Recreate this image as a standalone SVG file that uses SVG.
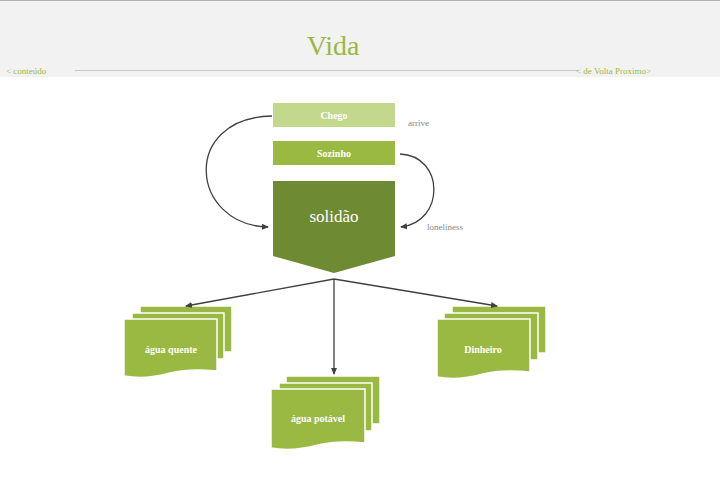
<svg xmlns="http://www.w3.org/2000/svg" width="720" height="487" viewBox="0 0 720 487">
<style>
.s{font-family:"Liberation Serif","DejaVu Serif",serif}
.w{fill:#fff;font-size:10px;text-anchor:middle;font-weight:bold}
.g{fill:#888;font-size:9px}
.n{fill:#9ab943;font-size:9px}
.doc{fill:#9ab943;stroke:#fff;stroke-width:1.5}
.c{fill:none;stroke:#404040;stroke-width:1.3}
</style>
<defs><marker id="a" markerWidth="8" markerHeight="8" refX="6" refY="4" orient="auto" markerUnits="userSpaceOnUse"><path d="M0,1 L7,4 L0,7 Z" fill="#404040"/></marker></defs>
<rect width="720" height="77" fill="#f2f2f2"/>
<line x1="0" y1="0.5" x2="720" y2="0.5" stroke="#b0b0b0"/>
<line x1="75" y1="70.5" x2="578" y2="70.5" stroke="#c8c8c8"/>
<text class="s" x="333" y="55" font-size="28" fill="#9ab943" text-anchor="middle">Vida</text>
<text class="s n" x="6" y="74">&lt; conteúdo</text>
<text class="s n" x="576" y="74">&lt; de Volta Proximo&gt;</text>
<g id="chego"><rect x="273" y="103" width="122" height="24" fill="#c3d88d"/><text class="s w" x="334" y="119">Chego</text></g>
<g id="sozinho"><rect x="273" y="141" width="122" height="24" fill="#9ab943"/><text class="s w" x="334" y="157">Sozinho</text></g>
<g id="solidao"><path d="M273,181 H395 V256 L334,273 L273,256 Z" fill="#6e8a33"/><text class="s" x="334" y="222" font-size="17" fill="#fff" text-anchor="middle">solidão</text></g>
<text class="s g" x="408" y="126">arrive</text>
<text class="s g" x="427" y="230">loneliness</text>
<g id="agua-quente">
<rect class="doc" x="140" y="306" width="92" height="46"/>
<rect class="doc" x="132" y="313" width="92" height="46"/>
<path class="doc" d="M124,319 H217 V371 Q190,368 170,373 Q145,380 124,376 Z"/>
<text class="s w" x="171" y="353">água quente</text></g>
<g id="agua-potavel">
<rect class="doc" x="286" y="376" width="94" height="48"/>
<rect class="doc" x="279" y="383" width="93" height="48"/>
<path class="doc" d="M271,389 H365 V443 Q338,440 318,445 Q292,452 271,448 Z"/>
<text class="s w" x="318" y="422">água potável</text></g>
<g id="dinheiro">
<rect class="doc" x="452" y="306" width="94" height="47"/>
<rect class="doc" x="444" y="313" width="94" height="47"/>
<path class="doc" d="M437,319 H530 V372 Q503,369 483,374 Q458,381 437,377 Z"/>
<text class="s w" x="483" y="353">Dinheiro</text></g>
<g id="connectors">
<path class="c" d="M272,116 C180,118 190,225 268,227" marker-end="url(#a)"/>
<path class="c" d="M400,154 C445,156 445,222 401,227" marker-end="url(#a)"/>
<path class="c" d="M334,279 L186,306" marker-end="url(#a)"/>
<path class="c" d="M334,279 L334,374" marker-end="url(#a)"/>
<path class="c" d="M334,279 L497,306" marker-end="url(#a)"/>
</g>
</svg>
